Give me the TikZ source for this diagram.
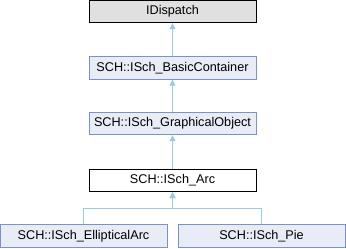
\documentclass[tikz,border=0pt]{standalone}
\usepackage{fontspec}
\setmainfont{Liberation Sans}
\usetikzlibrary{positioning,arrows.meta,calc}
\definecolor{BaseGray}{RGB}{224,224,224}
\definecolor{ClassFill}{RGB}{232,236,246}
\definecolor{ClassEdge}{RGB}{123,146,201}
\definecolor{InheritBlue}{RGB}{154,202,230}

\begin{document}
\begin{tikzpicture}[x=0.75pt, y=0.75pt, font=\fontsize{9.5pt}{11pt}\selectfont,
  every node/.style={align=center, inner sep=0pt, minimum width=125.25pt,
                     minimum height=16.8pt, line width=0.75pt},
  classbox/.style={draw=ClassEdge, fill=ClassFill},
  inherit/.style={{Triangle[length=4.5pt,width=4.5pt]}-, InheritBlue, line width=0.75pt}]
  \useasboundingbox (0,0) rectangle (346,248);
  \node[draw, fill=BaseGray] (disp) at (172.5,236.5) {IDispatch};
  \node[classbox] (basic) at (172.5,180) {SCH::ISch\_BasicContainer};
  \node[classbox] (graph) at (172.5,124.5) {SCH::ISch\_GraphicalObject};
  \node[draw, fill=white] (arc) at (172.5,67.5) {SCH::ISch\_Arc};
  \node[classbox] (earc) at (83.5,12) {SCH::ISch\_EllipticalArc};
  \node[classbox] (pie) at (261.5,12) {SCH::ISch\_Pie};
  \coordinate (bus) at (172.5,40);
  \draw[inherit] (disp) -- (basic);
  \draw[inherit] (basic) -- (graph);
  \draw[inherit] (graph) -- (arc);
  \foreach \c in {earc,pie} {
    \draw[inherit] (arc) -- (bus) -| (\c);
  }
\end{tikzpicture}
\end{document}
